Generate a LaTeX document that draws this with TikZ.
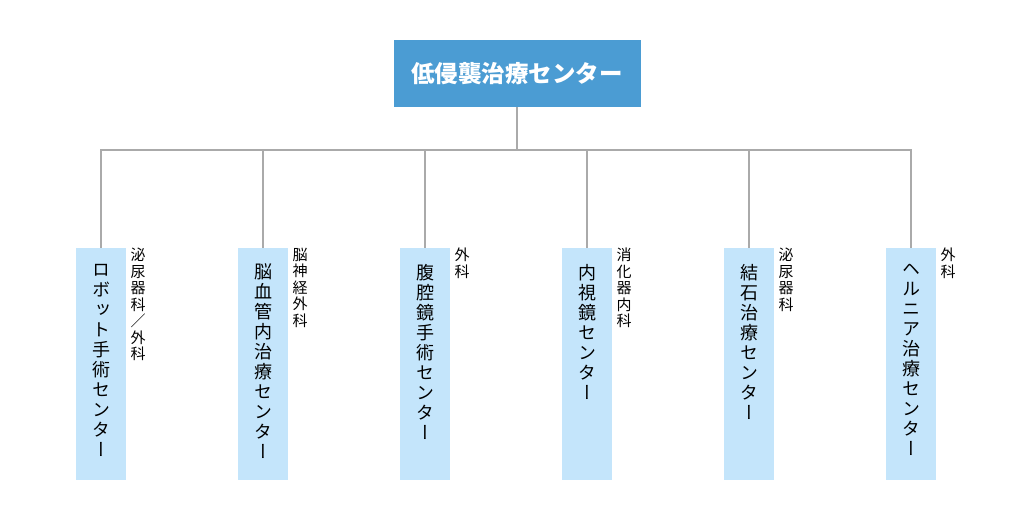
\documentclass[tikz,border=0pt]{standalone}
\usepackage{fontspec}
\setmainfont{Noto Sans CJK JP}
\newfontfamily\vjp[RawFeature=+vert]{Noto Sans CJK JP}
\definecolor{topblue}{HTML}{4B9CD3}
\definecolor{childblue}{HTML}{C4E5FB}
\definecolor{linegray}{HTML}{AAAAAA}
\begin{document}
\begin{tikzpicture}[x=0.75pt,y=-0.75pt,
  topbox/.style={fill=topblue,draw=none,minimum width=185.25pt,minimum height=50.25pt,inner sep=0pt,
    text=white,font=\fontsize{17.6}{19}\selectfont\bfseries},
  cbox/.style={fill=childblue,draw=none,minimum width=37.5pt,minimum height=174pt,inner sep=0pt},
  vlab/.style={anchor=north,inner sep=0pt,align=center,font=\vjp\fontsize{13.5}{15}\selectfont},
  slab/.style={anchor=north west,inner sep=0pt,align=center,font=\vjp\fontsize{11.25}{12.4}\selectfont},
  conn/.style={draw=linegray,line width=1.5pt}]
\useasboundingbox (0,0) rectangle (1034,520);
\node[topbox] (top) at (517,73.5) {低侵襲治療センター};
\coordinate (hub) at (517,150);
\foreach \i/\x in {1/101,2/263,3/425,4/587,5/749,6/911}{
  \node[cbox] (c\i) at (\x,364) {};
}
\draw[conn] (top.south) -- (top.south |- hub);
\draw[conn] (c1.north) -- (c1.north |- hub) -- (c6.north |- hub) -- (c6.north);
\foreach \i in {2,3,4,5}{
  \draw[conn] (c\i.north) -- (c\i.north |- hub);
}
\node[vlab] (t1) at ([yshift=-12pt]c1.north) {ロ\\ボ\\ッ\\ト\\手\\術\\セ\\ン\\タ\\ー};
\node[vlab] (t2) at ([yshift=-12pt]c2.north) {脳\\血\\管\\内\\治\\療\\セ\\ン\\タ\\ー};
\node[vlab] (t3) at ([yshift=-12pt]c3.north) {腹\\腔\\鏡\\手\\術\\セ\\ン\\タ\\ー};
\node[vlab] (t4) at ([yshift=-12pt]c4.north) {内\\視\\鏡\\セ\\ン\\タ\\ー};
\node[vlab] (t5) at ([yshift=-12pt]c5.north) {結\\石\\治\\療\\セ\\ン\\タ\\ー};
\node[vlab] (t6) at ([yshift=-12pt]c6.north) {ヘ\\ル\\ニ\\ア\\治\\療\\セ\\ン\\タ\\ー};
\node[slab] (s1) at ([xshift=3pt]c1.north east) {泌\\尿\\器\\科\\／\\外\\科};
\node[slab] (s2) at ([xshift=3pt]c2.north east) {脳\\神\\経\\外\\科};
\node[slab] (s3) at ([xshift=3pt]c3.north east) {外\\科};
\node[slab] (s4) at ([xshift=3pt]c4.north east) {消\\化\\器\\内\\科};
\node[slab] (s5) at ([xshift=3pt]c5.north east) {泌\\尿\\器\\科};
\node[slab] (s6) at ([xshift=3pt]c6.north east) {外\\科};
\end{tikzpicture}
\end{document}
